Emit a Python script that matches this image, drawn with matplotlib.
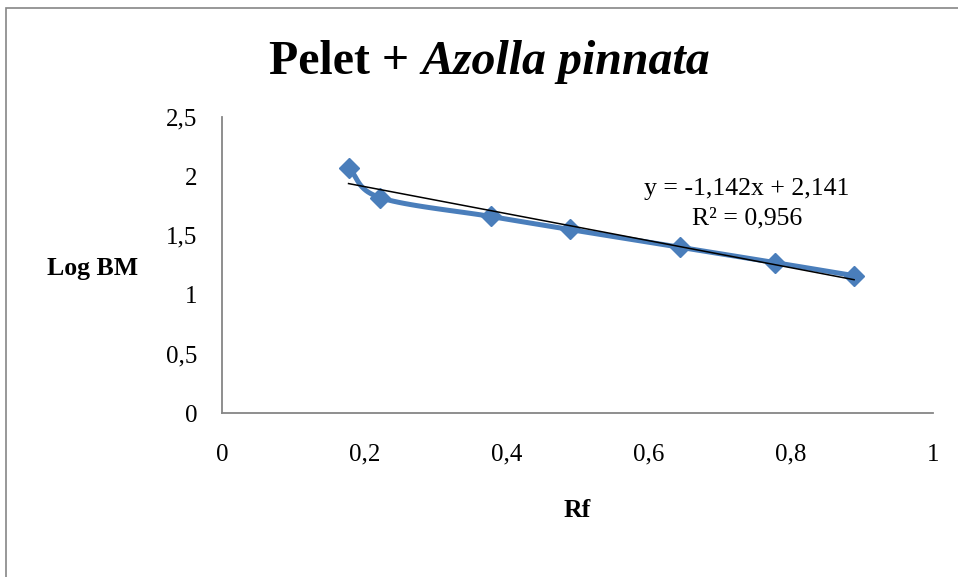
import numpy as np
import matplotlib
matplotlib.use("Agg")
import matplotlib.pyplot as plt
from matplotlib.patches import Rectangle

# Rf values and log of molecular weight
rf = [0.178, 0.222, 0.378, 0.489, 0.644, 0.778, 0.889]
log_bm = [2.07, 1.82, 1.66, 1.55, 1.40, 1.27, 1.16]

# trendline as printed on the chart
slope = -1.142
intercept = 2.141
r2 = 0.956

x_ticks = [0, 0.2, 0.4, 0.6, 0.8, 1]
y_ticks = [0, 0.5, 1, 1.5, 2, 2.5]

plt.rcParams["font.family"] = ["Liberation Serif", "DejaVu Serif"]

blue = "#4a7ebb"
grey = "#868686"


def smooth(xs, ys, n=20):
    # catmull-rom through the points, close to excel's smoothed line
    xs = np.asarray(xs, float)
    ys = np.asarray(ys, float)
    px = np.concatenate([[2 * xs[0] - xs[1]], xs, [2 * xs[-1] - xs[-2]]])
    py = np.concatenate([[2 * ys[0] - ys[1]], ys, [2 * ys[-1] - ys[-2]]])
    out_x, out_y = [], []
    t = np.linspace(0, 1, n)
    for i in range(1, len(px) - 2):
        for p, out in ((px, out_x), (py, out_y)):
            p0, p1, p2, p3 = p[i - 1], p[i], p[i + 1], p[i + 2]
            seg = 0.5 * (2 * p1 + (-p0 + p2) * t
                         + (2 * p0 - 5 * p1 + 4 * p2 - p3) * t ** 2
                         + (-p0 + 3 * p1 - 3 * p2 + p3) * t ** 3)
            out.extend(seg)
    return out_x, out_y


fig = plt.figure(figsize=(9.58, 5.77), dpi=100)
W, H = 958, 577

# outer chart frame
fig.patches.append(Rectangle((6 / W, -0.1), 1.2, 1 - 8 / H + 0.1,
                             transform=fig.transFigure, fill=False,
                             edgecolor=grey, linewidth=1.2))

ax = fig.add_axes([222 / W, (H - 413) / H, (933 - 222) / W, (413 - 117) / H])
ax.set_xlim(0, 1)
ax.set_ylim(0, 2.5)
ax.set_xticks(x_ticks)
ax.set_yticks(y_ticks)
ax.set_xticklabels([str(v).replace(".", ",") for v in x_ticks], fontsize=18)
ax.set_yticklabels([str(v).replace(".", ",") for v in y_ticks], fontsize=18)
ax.tick_params(length=0, pad=18)
ax.tick_params(axis="x", pad=22)
for s in ["top", "right"]:
    ax.spines[s].set_visible(False)
for s in ["left", "bottom"]:
    ax.spines[s].set_color(grey)
    ax.spines[s].set_linewidth(1.3)

sx, sy = smooth(rf, log_bm)
ax.plot(sx, sy, color=blue, linewidth=3.6, solid_capstyle="round", zorder=2)
ax.plot(rf, log_bm, linestyle="none", marker="D", markersize=10.5,
        color=blue, zorder=3)

tx = np.array([min(rf), max(rf)])
ax.plot(tx, slope * tx + intercept, color="black", linewidth=1.1, zorder=4)

eq = "y = %sx + %s" % (str(slope).replace(".", ","), str(intercept).replace(".", ","))
ax.text(0.738, 1.89, eq, fontsize=18.5, ha="center", va="center")
ax.text(0.738, 1.64, "R² = " + str(r2).replace(".", ","), fontsize=18.5,
        ha="center", va="center")

fig.text(93 / W, 1 - 268 / H, "Log BM", fontsize=18.5, fontweight="bold",
         ha="center", va="center")
fig.text(577 / W, 1 - 517 / H, "Rf", fontsize=18.5, fontweight="bold",
         ha="center", va="baseline")

# title: plain bold part followed by the italic species name
t1 = fig.text(269 / W, 1 - 74 / H, "Pelet + ", fontsize=34.5, fontweight="bold",
              ha="left", va="baseline")
fig.canvas.draw()
bb = t1.get_window_extent()
fig.text(bb.x1 / W, 1 - 74 / H, "Azolla pinnata", fontsize=34.5,
         fontweight="bold", style="italic", ha="left", va="baseline")

fig.savefig("out.png", dpi=100)
